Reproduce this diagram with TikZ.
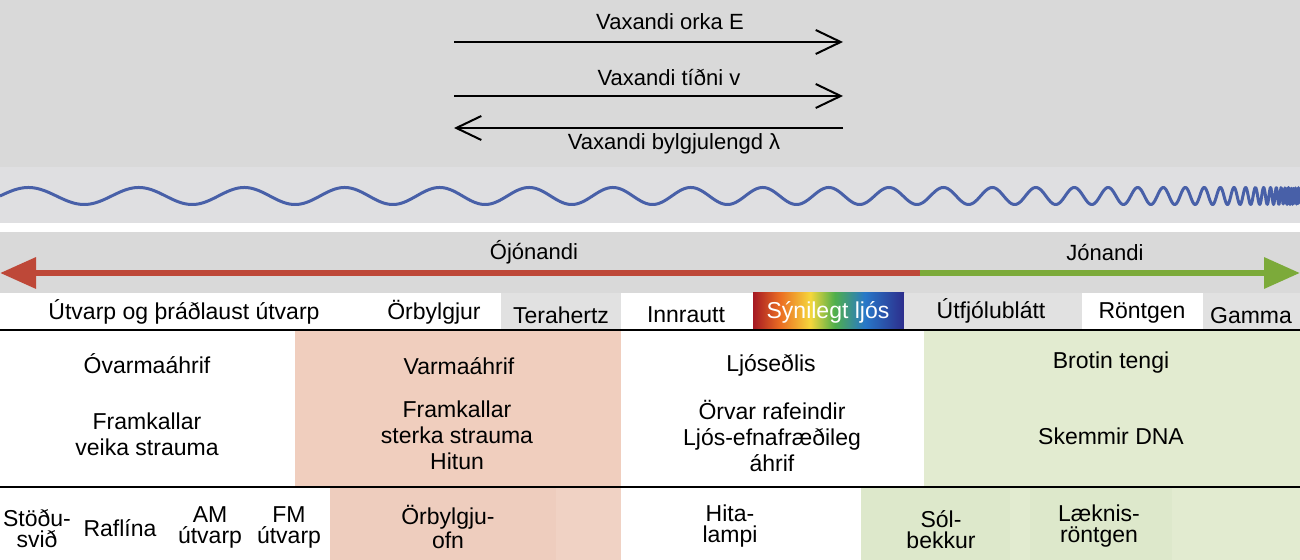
\documentclass[tikz,border=0pt]{standalone}
\usepackage{fontspec}
\setmainfont{Liberation Sans}
\usepackage{xcolor}
\usepackage{tikz}
\usetikzlibrary{arrows.meta, positioning}
\definecolor{topgray}{RGB}{217,217,217}
\definecolor{wavegray}{RGB}{223,223,225}
\definecolor{catgray}{RGB}{225,225,225}
\definecolor{waveblue}{RGB}{72,96,168}
\definecolor{ionred}{RGB}{190,72,56}
\definecolor{iongreen}{RGB}{124,170,58}
\definecolor{heatpink}{RGB}{240,206,190}
\definecolor{heatpinkb}{RGB}{238,205,190}
\definecolor{heatpinkc}{RGB}{240,210,196}
\definecolor{dnagreen}{RGB}{226,235,208}
\definecolor{dnagreenb}{RGB}{221,232,203}
\definecolor{rbA}{RGB}{165,25,35}
\definecolor{rbB}{RGB}{235,110,35}
\definecolor{rbC}{RGB}{245,215,60}
\definecolor{rbD}{RGB}{80,175,75}
\definecolor{rbE}{RGB}{40,120,200}
\definecolor{rbF}{RGB}{45,45,140}
\pgfdeclarehorizontalshading{rainbow}{100bp}{color(0bp)=(rbA); color(25bp)=(rbA);
  color(34bp)=(rbB); color(44bp)=(rbC); color(52bp)=(rbD); color(62bp)=(rbE);
  color(75bp)=(rbF); color(100bp)=(rbF)}
\tikzstyle{toptxt}  = [font=\fontsize{11}{12}\selectfont, inner sep=0pt]
\tikzstyle{cat}     = [font=\fontsize{11.5}{12}\selectfont, inner sep=0pt]
\tikzstyle{effect}  = [font=\fontsize{11.5}{13}\selectfont, align=center, inner sep=0pt]
\tikzstyle{usage}   = [font=\fontsize{11.5}{10.5}\selectfont, align=center, inner sep=0pt]
\tikzstyle{arr}     = [-{Straight Barb[length=12.5pt, width=12pt]}, line width=1pt]
\tikzstyle{ionarr}  = [-{Triangle[length=18pt, width=15pt]}, line width=3.2pt]
\tikzstyle{sepline} = [line width=1.25pt]
\tikzstyle{wave}    = [waveblue, line width=1.5pt, line join=round]

\begin{document}
\begin{tikzpicture}[x=0.5pt, y=-0.5pt]
  \useasboundingbox (0,0) rectangle (1300,560);

  \fill[topgray] (0,0) rectangle (1300,167);
  \fill[wavegray] (0,167) rectangle (1300,223);
  \fill[topgray] (0,232) rectangle (1300,293);
  \fill[catgray] (501,293) rectangle (621,329);
  \shade[shading=rainbow] (753,293) rectangle (904,329);
  \fill[catgray] (904,293) rectangle (1082,329);
  \fill[catgray] (1203,293) rectangle (1300,329);
  \fill[heatpink] (295,331) rectangle (621,486);
  \fill[dnagreen] (924,331) rectangle (1300,486);
  \fill[heatpinkb] (330,488) rectangle (556,560);
  \fill[heatpinkc] (556,488) rectangle (621,560);
  \fill[dnagreenb] (861,488) rectangle (1010,560);
  \fill[dnagreen] (1010,488) rectangle (1030,560);
  \fill[dnagreenb] (1030,488) rectangle (1172,560);
  \fill[dnagreen] (1172,488) rectangle (1300,560);
  \draw[sepline] (0,330) -- (1300,330);
  \draw[sepline] (0,487) -- (1300,487);

  \node[toptxt] (energy) at (670,22) {Vaxandi orka E};
  \node[toptxt] (freq) at (669,77) {Vaxandi tíðni v};
  \node[toptxt] (wavelen) at (674,144) {Vaxandi bylgjulengd λ};
  \coordinate (eL) at (454,42);
  \coordinate (eR) at (843,42);
  \coordinate (fL) at (454,96);
  \coordinate (fR) at (843,96);
  \coordinate (wL) at (454,128);
  \coordinate (wR) at (843,128);
  \draw[arr] (eL) -- (eR);
  \draw[arr] (fL) -- (fR);
  \draw[arr] (wR) -- (wL);

  \draw[wave] plot[domain=0:1300, samples=2601]
    (\x, {196-8.5*sin(360*(0.00472*\x+5.3*ln(1305/(1305-\x))))});

  \node[toptxt] (nonion) at (534,252) {Ójónandi};
  \node[toptxt] (ion) at (1105,253) {Jónandi};
  \coordinate (split) at (920,273);
  \coordinate (lowE) at (0,273);
  \coordinate (highE) at (1300,273);
  \draw[ionarr, ionred] (split) -- (lowE);
  \draw[ionarr, iongreen] (split) -- (highE);

  \node[cat] (radio) at (184,312) {Útvarp og þráðlaust útvarp};
  \node[cat] (micro) at (434,312) {Örbylgjur};
  \node[cat] (thz) at (561,315) {Terahertz};
  \node[cat] (ir) at (686,315) {Innrautt};
  \node[cat, text=white] (vis) at (828,312) {Sýnilegt ljós};
  \node[cat] (uv) at (991,311) {Útfjólublátt};
  \node[cat] (xray) at (1142,313) {Röntgen};
  \node[cat] (gam) at (1251,316) {Gamma};

  \node[effect] (nonthermal) at (147,364) {Óvarmaáhrif};
  \node[effect] (weak) at (147,434) {Framkallar\\veika strauma};
  \node[effect] (thermal) at (459,366) {Varmaáhrif};
  \node[effect] (strong) at (457,435) {Framkallar\\sterka strauma\\Hitun};
  \node[effect] (photo) at (771,365) {Ljóseðlis};
  \node[effect] (excite) at (772,436) {Örvar rafeindir\\Ljós-efnafræðileg\\áhrif};
  \node[effect] (bonds) at (1111,363) {Brotin tengi};
  \node[effect] (dna) at (1111,436) {Skemmir DNA};

  \node[usage] (station) at (37,529) {Stöðu-\\svið};
  \node[usage] (powerline) at (120,528) {Raflína};
  \node[usage] (am) at (210,527) {AM\\útvarp};
  \node[usage] (fm) at (289,527) {FM\\útvarp};
  \node[usage] (oven) at (448,527) {Örbylgju-\\ofn};
  \node[usage] (heatlamp) at (730,526) {Hita-\\lampi};
  \node[usage] (tanbed) at (941,530) {Sól-\\bekkur};
  \node[usage] (medxray) at (1099,526) {Læknis-\\röntgen};
\end{tikzpicture}
\end{document}
